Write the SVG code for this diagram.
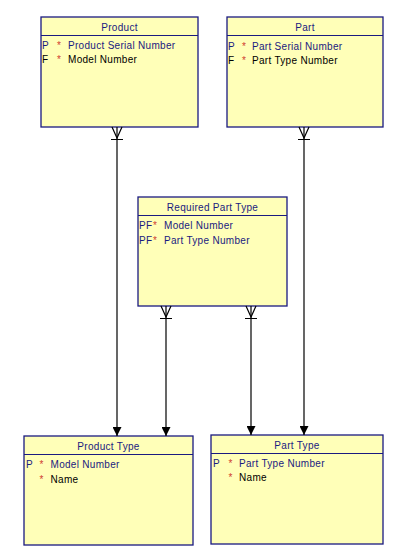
<svg xmlns="http://www.w3.org/2000/svg" width="409" height="560" viewBox="0 0 409 560">
<defs>
<marker id="arr" viewBox="0 0 10 10" refX="10" refY="5" markerWidth="9" markerHeight="9" markerUnits="userSpaceOnUse" orient="auto">
<path d="M0,0 L10,5 L0,10 Z" fill="#000"/>
</marker>
</defs>
<style>
.box{fill:#ffffb8;stroke:#1a1a80;stroke-width:1.3}
.sep{stroke:#1a1a80;stroke-width:1.1}
text{font-family:"Liberation Sans",Arial,sans-serif;font-size:10px;letter-spacing:0.3px}
.h{fill:#1a1a80;text-anchor:middle}
.n{fill:#1a1a80}
.k{fill:#000}
.s{fill:#d04030}
.c{stroke:#000;stroke-width:1.2;fill:none}
</style>
<rect width="409" height="560" fill="#fff"/>
<g id="product">
<rect class="box" x="41" y="17" width="157" height="110"/>
<line class="sep" x1="41" y1="35.5" x2="198" y2="35.5"/>
<text class="h" x="119.5" y="31">Product</text>
<text class="n" x="42" y="49">P</text><text class="s" x="57" y="49">*</text><text class="n" x="68" y="49">Product Serial Number</text>
<text class="k" x="42" y="63">F</text><text class="s" x="57" y="63">*</text><text class="k" x="68" y="63">Model Number</text>
</g>
<g id="part">
<rect class="box" x="227" y="17" width="156" height="110"/>
<line class="sep" x1="227" y1="35.5" x2="383" y2="35.5"/>
<text class="h" x="305" y="31">Part</text>
<text class="n" x="228" y="50">P</text><text class="s" x="242" y="50">*</text><text class="n" x="252" y="50">Part Serial Number</text>
<text class="k" x="228" y="64">F</text><text class="s" x="242" y="64">*</text><text class="k" x="252" y="64">Part Type Number</text>
</g>
<g id="required-part-type">
<rect class="box" x="138" y="197" width="149" height="109"/>
<line class="sep" x1="138" y1="215.5" x2="287" y2="215.5"/>
<text class="h" x="212.5" y="211">Required Part Type</text>
<text class="n" x="139" y="229">PF</text><text class="s" x="153" y="229">*</text><text class="n" x="164" y="229">Model Number</text>
<text class="n" x="139" y="244">PF</text><text class="s" x="153" y="244">*</text><text class="n" x="164" y="244">Part Type Number</text>
</g>
<g id="product-type">
<rect class="box" x="24" y="436" width="169" height="109"/>
<line class="sep" x1="24" y1="454.5" x2="193" y2="454.5"/>
<text class="h" x="108.5" y="450">Product Type</text>
<text class="n" x="26" y="468">P</text><text class="s" x="39.5" y="468">*</text><text class="n" x="50.5" y="468">Model Number</text>
<text class="s" x="39.5" y="483">*</text><text class="k" x="50.5" y="483">Name</text>
</g>
<g id="part-type">
<rect class="box" x="211" y="435" width="172" height="109"/>
<line class="sep" x1="211" y1="453.5" x2="383" y2="453.5"/>
<text class="h" x="297" y="449">Part Type</text>
<text class="n" x="213" y="467">P</text><text class="s" x="228.5" y="467">*</text><text class="n" x="239" y="467">Part Type Number</text>
<text class="s" x="228.5" y="481">*</text><text class="k" x="239" y="481">Name</text>
</g>
<g id="connectors">
<line class="c" x1="117" y1="127" x2="117" y2="436" marker-end="url(#arr)"/>
<path class="c" d="M112,127 L117,138 L122,127 M111,139.5 H123"/>
<line class="c" x1="304" y1="127" x2="304" y2="435" marker-end="url(#arr)"/>
<path class="c" d="M299,127 L304,138 L309,127 M298,139.5 H310"/>
<line class="c" x1="166" y1="306" x2="166" y2="436" marker-end="url(#arr)"/>
<path class="c" d="M161,306 L166,317 L171,306 M160,318.5 H172"/>
<line class="c" x1="251" y1="306" x2="251" y2="435" marker-end="url(#arr)"/>
<path class="c" d="M246,306 L251,317 L256,306 M245,318.5 H257"/>
</g>
</svg>
